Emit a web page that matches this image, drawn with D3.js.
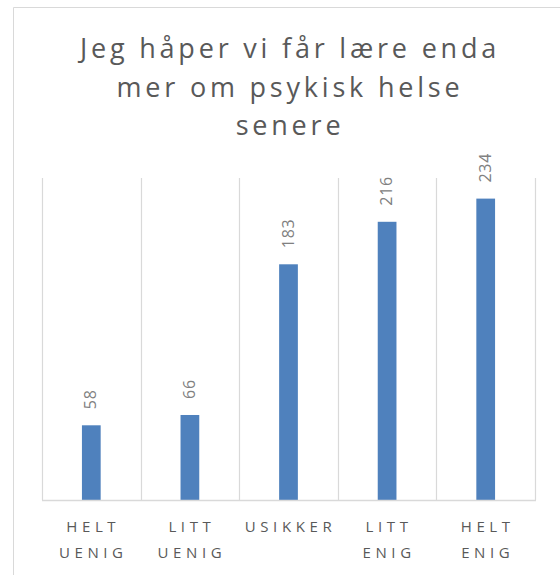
<!DOCTYPE html>
<html>
<head>
<meta charset="utf-8">
<script src="https://cdn.jsdelivr.net/npm/d3@7"></script>
<style>
  body { margin: 0; background: #fff; }
  svg { display: block; font-family: "Open Sans", "Liberation Sans", sans-serif; }
</style>
</head>
<body>
<div id="chart"></div>
<script>
// data
const titleLines = ["Jeg håper vi får lære enda", "mer om psykisk helse", "senere"];
const categories = [["HELT", "UENIG"], ["LITT", "UENIG"], ["USIKKER"], ["LITT", "ENIG"], ["HELT", "ENIG"]];
const values = [58, 66, 183, 216, 234];
const yMax = 250;

const width = 560, height = 575;
const svg = d3.select("#chart").append("svg")
  .attr("width", width)
  .attr("height", height);

// chart frame (only top and left edges are visible)
svg.append("path")
  .attr("d", "M13.5,575 V7.5 H560")
  .attr("fill", "none")
  .attr("stroke", "#d9d9d9");

const plot = { left: 42, right: 535, top: 178, bottom: 500 };

const keys = categories.map(c => c.join(" "));
const x = d3.scaleBand()
  .domain(keys)
  .range([plot.left, plot.right])
  .paddingInner(0.81)
  .paddingOuter(0.405);

const xCat = d3.scaleBand()
  .domain(keys)
  .range([plot.left, plot.right]);

const y = d3.scaleLinear()
  .domain([0, yMax])
  .range([plot.bottom, plot.top]);

// vertical gridlines at category borders
const borders = keys.map(k => xCat(k)).concat([plot.right]);
svg.append("g")
  .selectAll("line")
  .data(borders)
  .join("line")
  .attr("x1", d => Math.round(d) + 0.5)
  .attr("x2", d => Math.round(d) + 0.5)
  .attr("y1", plot.top)
  .attr("y2", plot.bottom)
  .attr("stroke", "#d9d9d9")
  .attr("stroke-width", 1.2);

// bars
svg.append("g")
  .selectAll("rect")
  .data(values)
  .join("rect")
  .attr("x", (d, i) => x(keys[i]))
  .attr("width", x.bandwidth())
  .attr("y", d => y(d))
  .attr("height", d => y(0) - y(d))
  .attr("fill", "#4f81bd");

// baseline
svg.append("line")
  .attr("x1", plot.left)
  .attr("x2", plot.right + 1)
  .attr("y1", plot.bottom + 0.5)
  .attr("y2", plot.bottom + 0.5)
  .attr("stroke", "#d9d9d9")
  .attr("stroke-width", 1.5);

// value labels (rotated)
svg.append("g")
  .selectAll("text")
  .data(values)
  .join("text")
  .attr("transform", (d, i) => {
    const cx = x(keys[i]) + x.bandwidth() / 2 - 1;
    return `translate(${cx},${y(d) - 16}) rotate(-90)`;
  })
  .attr("dominant-baseline", "central")
  .attr("font-size", 16)
  .attr("letter-spacing", 0.8)
  .attr("fill", "#808080")
  .text(d => d);

// category labels
const catG = svg.append("g")
  .selectAll("text")
  .data(categories)
  .join("text")
  .attr("x", (d, i) => xCat(keys[i]) + xCat.bandwidth() / 2 + 2)
  .attr("y", 532)
  .attr("text-anchor", "middle")
  .attr("font-size", 15)
  .attr("letter-spacing", 4.6)
  .attr("fill", "#595959");
catG.selectAll("tspan")
  .data(d => d)
  .join("tspan")
  .attr("x", function () { return d3.select(this.parentNode).attr("x"); })
  .attr("dy", (d, i) => i === 0 ? 0 : 26)
  .text(d => d);

// title
svg.append("text")
  .attr("text-anchor", "middle")
  .attr("font-size", 27)
  .attr("letter-spacing", 3.8)
  .attr("fill", "#595959")
  .selectAll("tspan")
  .data(titleLines)
  .join("tspan")
  .attr("x", 290)
  .attr("y", (d, i) => 58 + i * 38.5)
  .text(d => d);
</script>
</body>
</html>
